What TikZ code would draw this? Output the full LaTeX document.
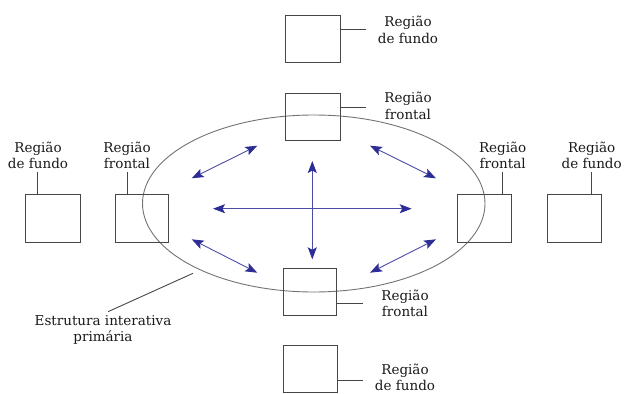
\documentclass[tikz,border=0pt]{standalone}
\usepackage{fontspec}
\setmainfont{DejaVu Serif}
\usetikzlibrary{arrows.meta,shapes.geometric}
\definecolor{arrowblue}{RGB}{45,45,150}
\definecolor{boxgray}{RGB}{70,70,70}
\definecolor{txt}{RGB}{25,25,25}
\tikzset{
  regbox/.style={draw=boxgray, line width=1pt, minimum width=55pt, minimum height=47pt, inner sep=0pt},
  lbl/.style={align=center, text=txt, font=\fontsize{13.5pt}{16.5pt}\selectfont, inner sep=0pt},
  lead/.style={draw=boxgray, line width=0.9pt},
  flow/.style={draw=arrowblue!85, line width=0.9pt, {Stealth[length=12pt,width=9pt,inset=2.5pt,color=arrowblue]}-{Stealth[length=12pt,width=9pt,inset=2.5pt,color=arrowblue]}},
  ring/.style={draw=gray!90!black, line width=0.9pt}
}
\begin{document}
\begin{tikzpicture}[x=1pt,y=-1pt]
\useasboundingbox (0,0) rectangle (625,394);
% ellipse
\node[ring, ellipse, minimum width=342.5pt, minimum height=177pt, inner sep=0pt] (ring) at (313.75,203.5) {};
% boxes
\node[regbox] (tfu) at (312.5,38.5) {};
\node[regbox] (tfr) at (312.5,117) {};
\node[regbox, minimum height=48pt] (lfu) at (53,218) {};
\node[regbox, minimum width=53pt, minimum height=48pt] (lfr) at (141.7,218) {};
\node[regbox, minimum width=54pt, minimum height=48pt] (rfr) at (484.7,218) {};
\node[regbox, minimum width=54pt, minimum height=48pt] (rfu) at (574.5,218) {};
\node[regbox, minimum width=53pt] (bfr) at (310,291.7) {};
\node[regbox, minimum width=54pt] (bfu) at (310.3,368.7) {};
% labels
\node[lbl] (Ltfu) at (408,30) {Região\\de fundo};
\node[lbl] (Ltfr) at (408,106) {Região\\frontal};
\node[lbl] (Llfu) at (38,155.5) {Região\\de fundo};
\node[lbl] (Llfr) at (127,155.5) {Região\\frontal};
\node[lbl] (Lrfr) at (502.7,155.5) {Região\\frontal};
\node[lbl] (Lrfu) at (591.7,155.5) {Região\\de fundo};
\node[lbl] (Lbfr) at (405,303.5) {Região\\frontal};
\node[lbl] (Lbfu) at (405,377.5) {Região\\de fundo};
\node[lbl] (Lest) at (103,330) {Estrutura interativa\\primária};
% leader free ends
\coordinate (ctfu) at (365.7,29);
\coordinate (ctfr) at (366,107);
\coordinate (clfu) at (37.7,171.7);
\coordinate (clfr) at (127,171.7);
\coordinate (crfr) at (502.7,172);
\coordinate (crfu) at (591.7,172);
\coordinate (cbfr) at (362.7,303.3);
\coordinate (cbfu) at (362.7,380.7);
\coordinate (cest) at (108,311.7);
\coordinate (cring) at (193,273.3);
\draw[lead] (tfu.east |- ctfu) -- (ctfu);
\draw[lead] (tfr.east |- ctfr) -- (ctfr);
\draw[lead] (lfu.north -| clfu) -- (clfu);
\draw[lead] (lfr.north -| clfr) -- (clfr);
\draw[lead] (rfr.north -| crfr) -- (crfr);
\draw[lead] (rfu.north -| crfu) -- (crfu);
\draw[lead] (bfr.east |- cbfr) -- (cbfr);
\draw[lead] (bfu.east |- cbfu) -- (cbfu);
\draw[lead] (cest) -- (cring);
% arrows
\coordinate (hl) at (213,208.7);
\coordinate (hr) at (411.7,208.7);
\coordinate (vt) at (312.3,161);
\coordinate (vb) at (312.3,259.3);
\coordinate (ula) at (191.7,178.3);
\coordinate (ulb) at (257.3,145.7);
\coordinate (ura) at (370,145.7);
\coordinate (urb) at (436,178.3);
\coordinate (lla) at (191.7,239.3);
\coordinate (llb) at (257.3,272.7);
\coordinate (lra) at (436,239.3);
\coordinate (lrb) at (370,272.7);
\draw[flow] (hl) -- (hr);
\draw[flow] (vt) -- (vb);
\draw[flow] (ula) -- (ulb);
\draw[flow] (ura) -- (urb);
\draw[flow] (lla) -- (llb);
\draw[flow] (lra) -- (lrb);
\end{tikzpicture}
\end{document}
